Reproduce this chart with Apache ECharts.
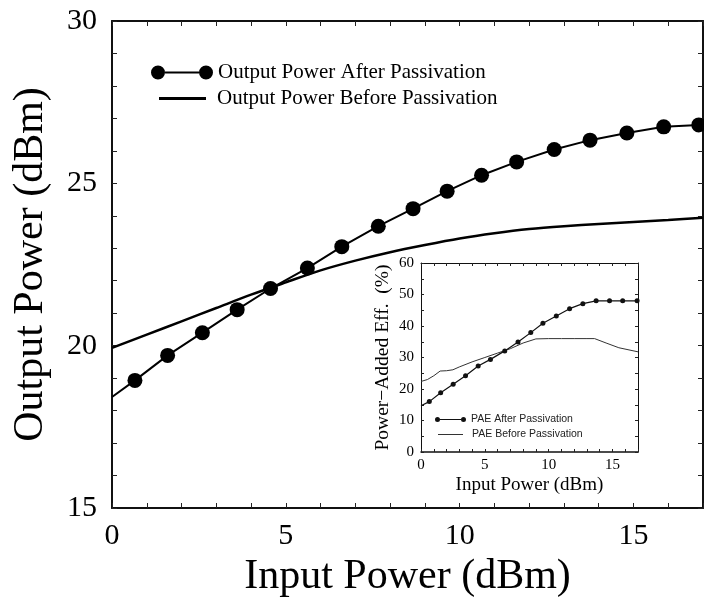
<!DOCTYPE html>
<html>
<head>
<meta charset="utf-8">
<script src="https://cdn.jsdelivr.net/npm/echarts@6/dist/echarts.min.js"></script>
<style>html,body{margin:0;padding:0;background:#fff}#c{width:704px;height:597px}</style>
</head>
<body>
<div id="c"></div>
<script>
// Main chart: Output power vs input power
const afterX  = [0, 0.66, 1.6, 2.6, 3.6, 4.56, 5.62, 6.61, 7.66, 8.66, 9.64, 10.63, 11.64, 12.72, 13.75, 14.81, 15.87, 16.88];
const afterY  = [18.42, 18.93, 19.70, 20.40, 21.11, 21.76, 22.39, 23.05, 23.68, 24.22, 24.76, 25.25, 25.66, 26.04, 26.33, 26.55, 26.74, 26.80];
const beforeX = [0, 1, 2, 3, 4, 5, 6, 7, 8, 9, 10, 11, 12, 13, 14, 15, 16, 17];
const beforeY = [19.93, 20.34, 20.75, 21.16, 21.57, 21.95, 22.32, 22.62, 22.88, 23.10, 23.30, 23.46, 23.59, 23.68, 23.75, 23.81, 23.87, 23.94];
// Inset: PAE vs input power
const paeAfterX  = [0, 0.65, 1.54, 2.52, 3.49, 4.48, 5.44, 6.56, 7.6, 8.6, 9.55, 10.6, 11.64, 12.68, 13.72, 14.77, 15.8, 16.93];
const paeAfterY  = [14.7, 16.0, 18.8, 21.5, 24.2, 27.3, 29.4, 32.1, 34.9, 37.9, 40.9, 43.2, 45.5, 47.1, 48.0, 48.0, 48.0, 48.0];
const paeBeforeX = [0, 0.5, 1, 1.5, 2, 2.5, 3, 4, 5, 6, 7, 8, 9, 10, 11, 12, 13, 13.6, 14.5, 15.5, 17];
const paeBeforeY = [22.4, 23.0, 24.2, 25.7, 25.8, 26.1, 27.0, 28.6, 30.0, 31.4, 32.8, 34.6, 35.9, 36.0, 36.0, 36.0, 36.0, 36.0, 34.6, 33.1, 31.8];

const mainXTicks = {min: 0, max: 17, interval: 5};
const mainYTicks = {min: 15, max: 30, interval: 5};
const insetXTicks = {min: 0, max: 17, interval: 5};
const insetYTicks = {min: 0, max: 60, interval: 10};

const SERIF = 'Liberation Serif';
function pairs(xs, ys) { return xs.map((x, i) => [x, ys[i]]); }

const chart = echarts.init(document.getElementById('c'), null, {renderer: 'canvas'});

function mkAxis(kind, grid, ticks, opts) {
  const base = {
    type: 'value', gridIndex: grid, min: ticks.min, max: ticks.max, interval: ticks.interval,
    splitLine: {show: false},
    axisLine: {show: true, onZero: false, lineStyle: {color: '#111', width: opts.lw}},
    axisTick: {show: true, inside: true, length: opts.tl, lineStyle: {color: '#222', width: 1}},
    minorTick: {show: true, splitNumber: opts.minor, length: opts.tl, lineStyle: {color: '#222', width: 1}},
    axisLabel: opts.label ? {show: true, color: '#000', fontFamily: SERIF, fontSize: opts.fs, margin: opts.margin, showMaxLabel: kind === 'x' ? false : true} : {show: false},
    position: opts.pos
  };
  if (opts.name) {
    Object.assign(base, {
      name: opts.name, nameLocation: 'middle', nameGap: opts.nameGap,
      nameTextStyle: {color: '#000', fontFamily: SERIF, fontSize: opts.nfs}
    });
  }
  return base;
}

const option = {
  animation: false,
  backgroundColor: '#fff',
  grid: [
    {left: 112, top: 21, right: 1, bottom: 89, outerBoundsMode: 'none', containLabel: false},
    {left: 421, top: 263, right: 66, bottom: 145, outerBoundsMode: 'none', containLabel: false}
  ],
  xAxis: [
    mkAxis('x', 0, mainXTicks, {pos: 'bottom', lw: 2, tl: 5, minor: 5, label: true, fs: 30, margin: 13, name: 'Input Power (dBm)', nameGap: 43, nfs: 42}),
    mkAxis('x', 0, mainXTicks, {pos: 'top', lw: 2, tl: 5, minor: 5, label: false}),
    mkAxis('x', 1, insetXTicks, {pos: 'bottom', lw: 1.5, tl: 3, minor: 5, label: true, fs: 15, margin: 6, name: 'Input Power (dBm)', nameGap: 24, nfs: 19}),
    mkAxis('x', 1, insetXTicks, {pos: 'top', lw: 1, tl: 3, minor: 5, label: false})
  ],
  yAxis: [
    mkAxis('y', 0, mainYTicks, {pos: 'left', lw: 2, tl: 5, minor: 5, label: true, fs: 30, margin: 15, name: 'Output Power (dBm)', nameGap: 60, nfs: 42}),
    mkAxis('y', 0, mainYTicks, {pos: 'right', lw: 2, tl: 5, minor: 5, label: false}),
    mkAxis('y', 1, insetYTicks, {pos: 'left', lw: 1, tl: 3, minor: 2, label: true, fs: 15, margin: 7, name: 'Power\u2212Added Eff.  (%)', nameGap: 28, nfs: 19.5}),
    mkAxis('y', 1, insetYTicks, {pos: 'right', lw: 1, tl: 3, minor: 2, label: false})
  ],
  legend: [
    {
      data: [{name: 'Output Power After Passivation', icon: 'path://M0,7a7,7 0 1,0 14,0a7,7 0 1,0 -14,0M48,7a7,7 0 1,0 14,0a7,7 0 1,0 -14,0M14,6h34v2h-34z'}],
      left: 151, top: 62, padding: 0, itemWidth: 62, itemHeight: 14, selectedMode: false,
      textStyle: {color: '#000', fontFamily: SERIF, fontSize: 21}
    },
    {
      data: [{name: 'Output Power Before Passivation', icon: 'path://M0,0h47v3h-47z'}],
      left: 159, top: 88, padding: 0, itemWidth: 47, itemHeight: 3, selectedMode: false,
      textStyle: {color: '#000', fontFamily: SERIF, fontSize: 21, padding: [0, 0, 0, 6]}
    },
    {
      data: [{name: 'PAE After Passivation', icon: 'path://M0,2.5a2.5,2.5 0 1,0 5,0a2.5,2.5 0 1,0 -5,0M26,2.5a2.5,2.5 0 1,0 5,0a2.5,2.5 0 1,0 -5,0M5,2h21v1h-21z'}],
      left: 435, top: 414, padding: 0, itemWidth: 31, itemHeight: 5, selectedMode: false,
      textStyle: {color: '#222', fontFamily: 'Liberation Sans', fontSize: 10.5}
    },
    {
      data: [{name: 'PAE Before Passivation', icon: 'path://M0,0h25v1h-25z'}],
      left: 438, top: 429, padding: 0, itemWidth: 25, itemHeight: 1, selectedMode: false,
      textStyle: {color: '#222', fontFamily: 'Liberation Sans', fontSize: 10.5, padding: [0, 0, 0, 4]}
    }
  ],
  series: [
    {
      name: 'Output Power Before Passivation', type: 'line', xAxisIndex: 0, yAxisIndex: 0,
      data: pairs(beforeX, beforeY), showSymbol: false, symbol: 'none', smooth: 0.3,
      color: '#000', lineStyle: {color: '#000', width: 2.5}, z: 3
    },
    {
      name: 'Output Power After Passivation', type: 'line', xAxisIndex: 0, yAxisIndex: 0,
      data: pairs(afterX, afterY).map((p, i) => i === 0 ? {value: p, symbol: 'none'} : p),
      symbol: 'circle', symbolSize: 15, showAllSymbol: true,
      color: '#000', itemStyle: {color: '#000'}, lineStyle: {color: '#000', width: 2}, z: 4
    },
    {
      name: 'PAE Before Passivation', type: 'line', xAxisIndex: 2, yAxisIndex: 2,
      data: pairs(paeBeforeX, paeBeforeY), symbol: 'none',
      color: '#333', lineStyle: {color: '#333', width: 1}, z: 3
    },
    {
      name: 'PAE After Passivation', type: 'line', xAxisIndex: 2, yAxisIndex: 2,
      data: pairs(paeAfterX, paeAfterY).map((p, i) => i === 0 ? {value: p, symbol: 'none'} : p),
      symbol: 'circle', symbolSize: 5, showAllSymbol: true,
      color: '#111', itemStyle: {color: '#111'}, lineStyle: {color: '#111', width: 1.2}, z: 4
    }
  ]
};
chart.setOption(option);
</script>
</body>
</html>
